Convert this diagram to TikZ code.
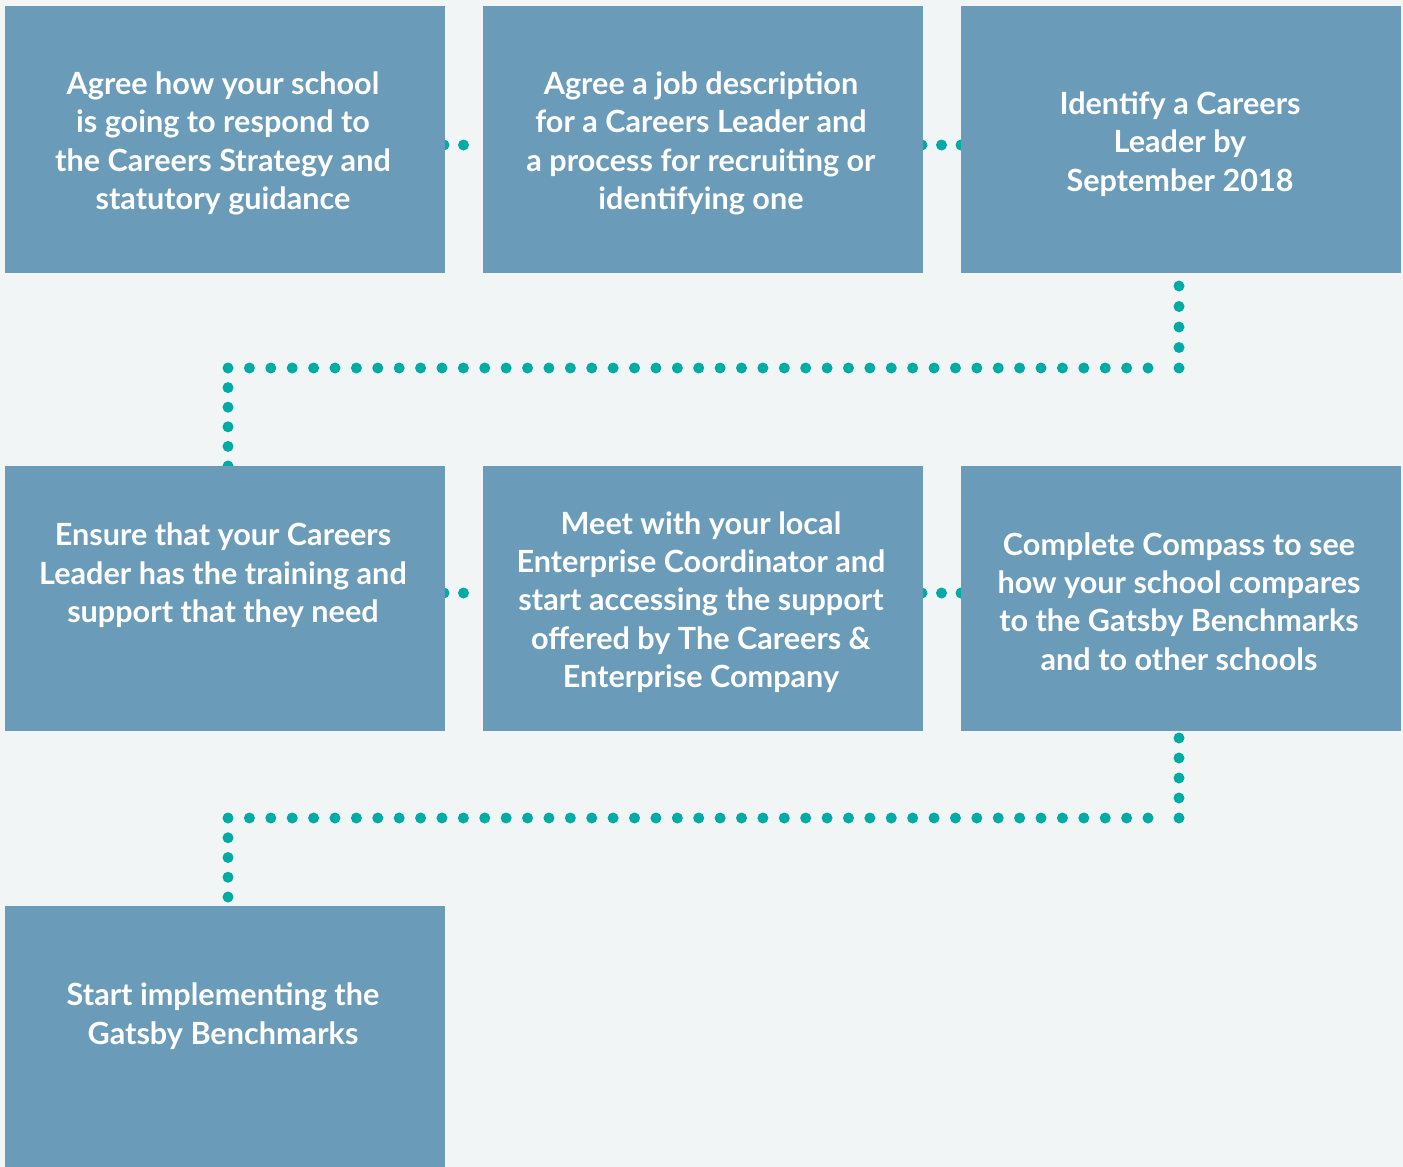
\documentclass[tikz,border=0pt]{standalone}
\usepackage{fontspec}
\setmainfont{Lato}
\definecolor{bg}{HTML}{F1F5F6}
\definecolor{boxc}{HTML}{6A9BB8}
\definecolor{dotc}{HTML}{00AAA5}
\begin{document}
\begin{tikzpicture}[x=1pt,y=-1pt,
  box/.style={draw=none,fill=boxc,minimum width=440pt,minimum height=#1,inner sep=0pt,anchor=north west},
  box/.default=267pt,
  txt/.style={text=white,font=\bfseries\fontsize{30.6}{38.4}\selectfont,align=center,inner sep=0pt},
  dotline/.style={draw=dotc,line width=11pt,line cap=round,dash pattern=on 0pt off #1},
  dotline/.default=19.5pt]
\useasboundingbox[fill=bg] (0,0) rectangle (1403,1167);
% coordinates for the dotted connectors
\coordinate (c1) at (1179,368);
\coordinate (c2) at (228,368);
\coordinate (c1a) at (1148,368);
\coordinate (c2a) at (245,368);
\coordinate (c3) at (1179,818);
\coordinate (c4) at (228,818);
\coordinate (c3a) at (1148,818);
\coordinate (c4a) at (245,818);
\coordinate (h1a) at (444,145);
\coordinate (h1b) at (483,145);
\coordinate (h2a) at (922,145);
\coordinate (h2b) at (961,145);
\coordinate (h3a) at (444,593);
\coordinate (h3b) at (483,593);
\coordinate (h4a) at (922,593);
\coordinate (h4b) at (961,593);
\coordinate (v1) at (1179,262);
\coordinate (v2) at (228,466);
\coordinate (v3) at (1179,718);
\coordinate (v4) at (228,906);
% dotted connectors (behind boxes)
\draw[dotline] (h1a) -- (h1b);
\draw[dotline] (h2a) -- (h2b);
\draw[dotline] (h3a) -- (h3b);
\draw[dotline] (h4a) -- (h4b);
\draw[dotline=20.5pt] (c1) -- (v1);
\draw[dotline=21.395pt] (c1a) -- (c2a);
\draw[dotline=19.6pt] (c2) -- (v2);
\draw[dotline=20pt] (c3) -- (v3);
\draw[dotline=21.395pt] (c3a) -- (c4a);
\draw[dotline=19.75pt] (c4) -- (v4);
% boxes
\node[box] (b1) at (5,6) {};
\node[box] (b2) at (483,6) {};
\node[box] (b3) at (961,6) {};
\node[box=265pt] (b4) at (5,466) {};
\node[box=265pt] (b5) at (483,466) {};
\node[box=265pt] (b6) at (961,466) {};
\node[box=280pt] (b7) at (5,906) {};
% texts
\node[txt] (t1) at (223,143.5) {Agree how your school\\is going to respond to\\the Careers Strategy and\\statutory guidance};
\node[txt] (t2) at (701,143.5) {Agree a job description\\for a Careers Leader and\\a process for recruiting or\\identifying one};
\node[txt] (t3) at (1180,144) {Identify a Careers\\Leader by\\September 2018};
\node[txt] (t4) at (223,575.5) {Ensure that your Careers\\Leader has the training and\\support that they need};
\node[txt] (t5) at (701,602) {Meet with your local\\Enterprise Coordinator and\\start accessing the support\\offered by The Careers \&\\Enterprise Company};
\node[txt] (t6) at (1179,601.5) {Complete Compass to see\\how your school compares\\to the Gatsby Benchmarks\\and to other schools};
\node[txt] (t7) at (223,1016) {Start implementing the\\Gatsby Benchmarks};
\end{tikzpicture}
\end{document}
